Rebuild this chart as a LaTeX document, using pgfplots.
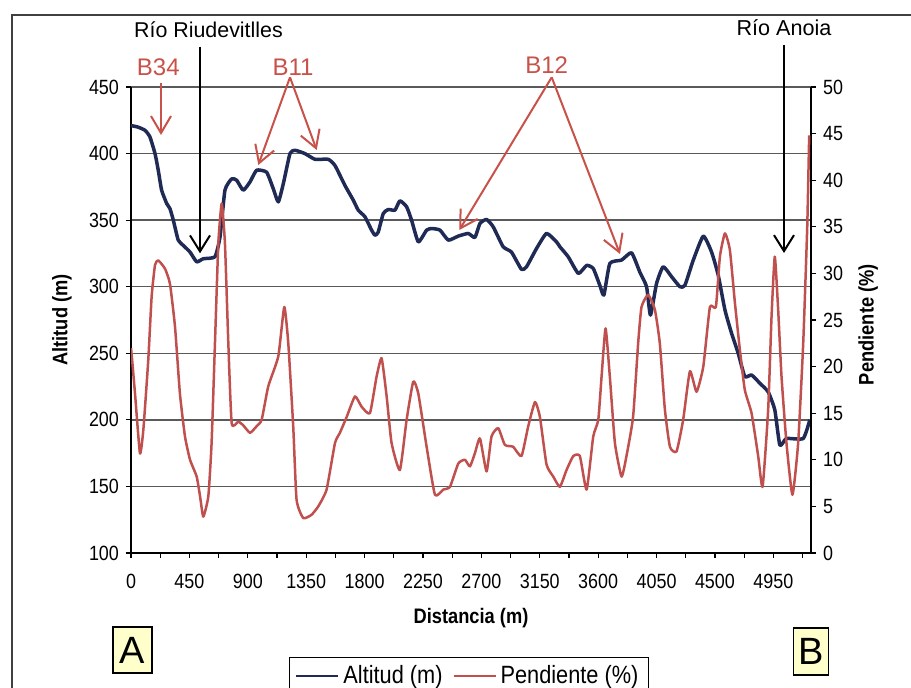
\documentclass[border=0pt]{standalone}
\usepackage{fontspec}
\setmainfont{Liberation Sans}[FakeStretch=0.87]
\newfontfamily\annfont{Liberation Sans}
\usepackage{pgfplots}
\pgfplotsset{compat=1.18}
\usepackage{pgfplotstable}
\usetikzlibrary{arrows.meta}
\definecolor{navy}{RGB}{31,42,85}
\definecolor{brick}{RGB}{192,80,77}
\definecolor{annred}{RGB}{200,82,74}
\definecolor{gridc}{RGB}{90,90,90}
\definecolor{boxy}{RGB}{255,255,204}

\pgfplotstableread{
d alt
0 421
50 420
108 417.5
146 412.5
185 400
210 387.5
236 372.5
275 362.5
300 358.7
326 350
364 335
403 331
455 326
506 318.7
557 321
647 322.5
686 337.5
724 372.5
776 381
814 380
865 372.5
917 378.7
968 387.5
1045 386
1096 373.7
1135 363.7
1174 377.5
1225 400
1263 402.5
1340 400
1418 395.7
1520 395.7
1572 391
1649 376
1713 365
1751 357.5
1803 352.5
1854 342.5
1880 338.7
1905 341
1944 355
1983 358
2034 357.5
2072 364.5
2124 360
2162 350
2214 333.7
2278 342.5
2317 343.7
2381 342.5
2445 335
2522 338
2599 340
2650 337
2689 347.5
2740 350.5
2791 345
2868 330
2932 326
3009 313
3048 315
3125 328.7
3202 340
3279 333.7
3305 330
3369 322.5
3447 310
3511 316
3562 313.7
3613 301
3644 293.7
3690 317.5
3780 320
3857 325.5
3921 311
3973 300
4003 278.7
4050 302.5
4101 315
4166 307.5
4230 300
4268 301
4333 320
4410 338
4474 326
4525 308.7
4577 282.5
4628 265
4679 250
4730 232.5
4782 233.7
4846 227.5
4910 221
4961 207.5
5000 181
5051 186
5180 186
5231 200
}\altitud

\pgfplotstableread{
d p
0 22
5 21.3
31 17.1
69 10.7
95 13.2
133 20.7
159 27.5
185 30.9
210 31.4
262 30.5
300 28.9
339 24.3
377 17.1
416 12.5
455 10
506 8.2
532 6.1
557 3.9
596 6.1
621 11.8
647 22.5
673 33.2
699 37.5
724 33.2
750 22.5
776 13.9
827 14.1
865 13.7
917 12.9
968 13.6
1007 14.3
1058 17.9
1135 21.1
1181 26.4
1212 22.5
1250 13.6
1276 5.7
1327 3.75
1391 4.1
1443 5
1507 6.8
1572 11.8
1610 12.9
1662 14.6
1726 16.8
1777 15.7
1841 15
1892 18.9
1931 20.9
1970 16.8
2008 11.8
2072 8.9
2124 14.3
2175 18.4
2214 17.1
2278 11.4
2342 6.25
2406 6.8
2458 7.1
2522 9.6
2573 10
2612 9.3
2650 10.7
2689 12.3
2740 8.75
2778 12.5
2830 13.4
2881 11.6
2945 11.4
3009 10.4
3061 13.6
3113 16.2
3151 14.6
3202 9.5
3254 8.2
3305 7.1
3356 8.9
3408 10.4
3459 10.4
3511 6.8
3562 12.5
3601 14.3
3626 18.9
3657 24.1
3690 18.9
3729 11.8
3780 8.2
3818 10.4
3869 14.6
3908 22.5
3934 26.4
3985 27.7
4037 26.1
4075 22.5
4114 15.4
4153 11.4
4204 10.9
4255 14.3
4307 19.5
4358 17.3
4410 20
4461 26.4
4507 26.4
4538 31.8
4577 34.3
4615 32.5
4654 26.8
4692 21.8
4730 17.5
4782 15
4833 10.4
4867 7.1
4910 15.4
4936 25.4
4961 31.8
4987 26.1
5013 18.9
5051 11.8
5097 6.25
5141 11.8
5180 22.5
5211 35
5226 44.8
}\pendiente

\begin{document}
\begin{tikzpicture}[x=0.5pt,y=0.5pt]
\useasboundingbox (0,0) rectangle (911,687);
% outer frame
\draw[line width=0.6pt, black!75] (12,-5) -- (12,672) -- (920,672);

\pgfplotsset{
  common/.style={
    at={(65.5pt,67pt)}, anchor=south west,
    scale only axis, width=340pt, height=233pt,
    xmin=0, xmax=5240,
    tick align=outside,
    major tick length=2.5pt, minor tick length=2.5pt,
    tick style={black, line width=0.6pt},
    axis line style={black, line width=0.8pt},
    /pgf/number format/assume math mode=true,
    /pgf/number format/1000 sep={},
    scaled ticks=false,
    tick label style={font=\fontsize{10.3}{12}\selectfont},
    label style={font=\bfseries\fontsize{10.5}{12}\selectfont},
  }
}

\begin{axis}[common,
  ymin=100, ymax=450,
  axis x line*=bottom, axis y line*=left,
  xtick={0,450,...,4950},
  minor xtick={225,675,...,5175},
  ytick={100,150,...,450},
  xticklabel style={yshift=-4.5pt},
  ymajorgrids,
  major grid style={gridc, line width=0.7pt},
  xlabel={Distancia (m)},
  ylabel={Altitud (m)},
  xlabel style={at={(axis description cs:0.5,-0.1395)}, anchor=center},
  ylabel style={at={(axis description cs:-0.1015,0.5)}, anchor=center},
  legend style={at={(axis description cs:0.497,-0.223)}, anchor=north,
    draw=black, line width=0.6pt, inner xsep=3pt, inner ysep=2pt,
    font=\fontsize{12.5}{14}\selectfont,
    /tikz/every even column/.append style={column sep=3pt}},
  legend columns=2,
  legend image code/.code={\draw[#1, line width=1pt] (0pt,0pt) -- (21pt,0pt);},
]
\addplot[navy, line width=1.75pt, line join=round, smooth, tension=0.3] table[x=d, y=alt] {\altitud};
\addlegendentry{Altitud (m)}
\addlegendimage{brick, line width=1pt}
\addlegendentry{Pendiente (\%)}
\end{axis}

\begin{axis}[common,
  ymin=0, ymax=50,
  axis x line=none, axis y line*=right,
  ytick={0,5,...,50},
  ylabel={Pendiente (\%)},
  ylabel style={at={(axis description cs:1.084,0.49)}, anchor=center, rotate=0},
]
\addplot[brick, line width=1.25pt, line join=round, smooth, tension=0.3] table[x=d, y=p] {\pendiente};
\end{axis}

% annotations
\node[font=\annfont\fontsize{10.7}{12}\selectfont, anchor=base] at (208.5,649.7) {Río Riudevitlles};
\draw[black, line width=1pt, -{Straight Barb[length=8pt,width=10pt,line width=1pt]}] (200,640.3) -- (200,433.7);
\node[font=\annfont\fontsize{10.8}{12}\selectfont, anchor=base] at (784,651) {Río Anoia};
\draw[black, line width=1pt, -{Straight Barb[length=8pt,width=10pt,line width=1pt]}] (784,642) -- (784,434);

\node[annred, font=\annfont\fontsize{12}{14}\selectfont, anchor=base] at (158.3,611) {B34};
\draw[annred, line width=1pt, -{Straight Barb[length=8.5pt,width=10pt,line width=1pt]}] (161,604) -- (161,552);

\node[annred, font=\annfont\fontsize{12}{14}\selectfont, anchor=base] at (293,611) {B11};
\draw[annred, line width=1pt, -{Straight Barb[length=8.5pt,width=10pt,line width=1pt]}] (290,609.7) -- (258.3,522);
\draw[annred, line width=1pt, -{Straight Barb[length=8.5pt,width=10pt,line width=1pt]}] (290,609.7) -- (316.7,537);

\node[annred, font=\annfont\fontsize{12}{14}\selectfont, anchor=base] at (546.7,613) {B12};
\draw[annred, line width=1pt, -{Straight Barb[length=8.5pt,width=10pt,line width=1pt]}] (551.7,609.7) -- (459.3,457);
\draw[annred, line width=1pt, -{Straight Barb[length=8.5pt,width=10pt,line width=1pt]}] (551.7,609.7) -- (620,433);

\draw[black, line width=0.8pt, fill=boxy] (113,14) rectangle (152,60);
\node[font=\annfont\fontsize{19}{20}\selectfont] at (132.5,37) {A};
\draw[black, line width=0.8pt, fill=boxy] (793.6,12) rectangle (828.5,59);
\node[font=\annfont\fontsize{19}{20}\selectfont] at (811,35.5) {B};
\end{tikzpicture}
\end{document}
